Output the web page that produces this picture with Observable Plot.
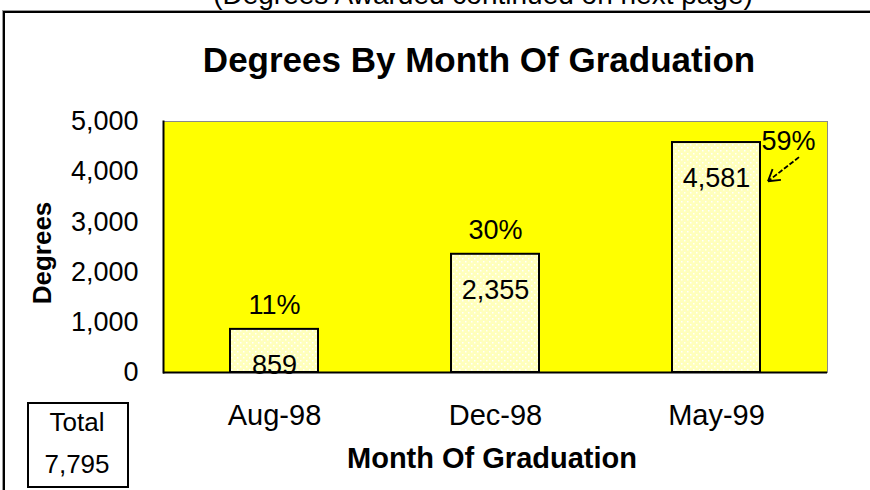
<!DOCTYPE html>
<html>
<head>
<meta charset="utf-8">
<script src="https://cdn.jsdelivr.net/npm/d3@7"></script>
<script src="https://cdn.jsdelivr.net/npm/@observablehq/plot@0.6"></script>
<style>
  html, body { margin: 0; padding: 0; background: #fff; overflow: hidden; }
  #wrap { position: relative; width: 870px; height: 490px; overflow: hidden; background: #fff; }
  #frame { position: absolute; left: 3px; top: 11px; width: 900px; height: 520px;
           border: 2px solid #000; box-shadow: -1px -1px 0 #9a9a9a; }
  #wrap svg { position: absolute; left: 0; top: 0; }
</style>
</head>
<body>
<div id="wrap"><div id="frame"></div></div>
<script>
// ---- data ----
const months = ["Aug-98", "Dec-98", "May-99"];
const degrees = [859, 2355, 4581];
const pctLabels = ["11%", "30%", "59%"];
const yTicks = [0, 1000, 2000, 3000, 4000, 5000];
const totalDegrees = 7795;
const titleText = "Degrees By Month Of Graduation";
const headerText = "(Degrees Awarded continued on next page)";
const xLabel = "Month Of Graduation";
const yLabel = "Degrees";

const fmt = d3.format(",");
const data = months.map((m, i) => ({month: m, degrees: degrees[i], pct: pctLabels[i], label: fmt(degrees[i])}));

const FONT = "'Liberation Sans', Arial, Helvetica, sans-serif";

const chart = Plot.plot({
  width: 870,
  height: 490,
  marginLeft: 163,
  marginRight: 43,
  marginTop: 121,
  marginBottom: 118,
  style: {fontFamily: FONT, fontSize: "27px", background: "transparent", color: "#000", overflow: "visible"},
  x: {domain: months, paddingInner: 0.6, paddingOuter: 0.3, axis: null},
  y: {domain: [0, 5000], axis: null},
  marks: [
    Plot.frame({fill: "#ffff00", stroke: "#8a8a8a", strokeWidth: 1}),
    Plot.axisY({ticks: yTicks, tickFormat: d => fmt(d), tickSize: 0, tickPadding: 25, label: null, fontSize: 27}),
    Plot.axisX({tickSize: 0, tickPadding: 32, label: null, fontSize: 29}),
    Plot.barY(data, {x: "month", y: "degrees", fill: "url(#dots)", stroke: "#000", strokeWidth: 2}),
    Plot.text(data, {x: "month", y: "degrees", text: "label", dy: 36, fontSize: 27}),
    Plot.text(data.slice(0, 2), {x: "month", y: "degrees", text: "pct", dy: -24, fontSize: 27}),
    Plot.text(data.slice(2), {x: "month", y: "degrees", text: "pct", dx: 72, dy: -1, fontSize: 27}),
    Plot.frame({anchor: "left", stroke: "#000", strokeWidth: 2}),
    Plot.ruleY([0], {stroke: "#000", strokeWidth: 2})
  ]
});

const svg = d3.select(chart);
// dotted pale fill pattern for bars
const pat = svg.insert("defs", ":first-child").append("pattern")
  .attr("id", "dots").attr("width", 6).attr("height", 6).attr("patternUnits", "userSpaceOnUse");
pat.append("rect").attr("width", 6).attr("height", 6).attr("fill", "#ffffbc");
pat.append("rect").attr("x", 0).attr("y", 0).attr("width", 1.5).attr("height", 1.5).attr("fill", "#ffffff");
pat.append("rect").attr("x", 3).attr("y", 3).attr("width", 1.5).attr("height", 1.5).attr("fill", "#ffffff");

// arrow from the 59% label to the May-99 bar, placed via the chart's scales
const xs = chart.scale("x"), ys = chart.scale("y");
const cx = xs.apply("May-99") + xs.bandwidth / 2;
const ax1 = cx + 83, ay1 = ys.apply(4280), ax2 = cx + 52, ay2 = ys.apply(3800);
svg.append("line").attr("x1", ax1).attr("y1", ay1).attr("x2", ax2).attr("y2", ay2)
  .attr("stroke", "#000").attr("stroke-width", 1.8).attr("stroke-dasharray", "5,2");
const ang = Math.atan2(ay1 - ay2, ax1 - ax2);
[-0.55, 0.55].forEach(a => {
  svg.append("line").attr("x1", ax2).attr("y1", ay2)
    .attr("x2", ax2 + 13 * Math.cos(ang + a)).attr("y2", ay2 + 13 * Math.sin(ang + a))
    .attr("stroke", "#000").attr("stroke-width", 1.8);
});

// header, title and axis labels
const t = svg.append("g").attr("font-family", FONT).attr("fill", "#000");
t.append("text").attr("x", 483).attr("y", 4).attr("text-anchor", "middle").attr("font-size", 28).text(headerText);
t.append("text").attr("x", 479).attr("y", 72).attr("text-anchor", "middle").attr("font-size", 35).attr("font-weight", "bold").text(titleText);
t.append("text").attr("x", 492).attr("y", 468).attr("text-anchor", "middle").attr("font-size", 29).attr("font-weight", "bold").text(xLabel);
t.append("text").attr("transform", "translate(51,253) rotate(-90)").attr("text-anchor", "middle").attr("font-size", 26).attr("font-weight", "bold").text(yLabel);

// total box
t.append("rect").attr("x", 28).attr("y", 403).attr("width", 100).attr("height", 84)
  .attr("fill", "#fff").attr("stroke", "#000").attr("stroke-width", 2);
t.append("text").attr("x", 77).attr("y", 431).attr("text-anchor", "middle").attr("font-size", 26).text("Total");
t.append("text").attr("x", 77).attr("y", 473).attr("text-anchor", "middle").attr("font-size", 26).text(fmt(totalDegrees));

document.getElementById("wrap").appendChild(chart);
</script>
</body>
</html>
